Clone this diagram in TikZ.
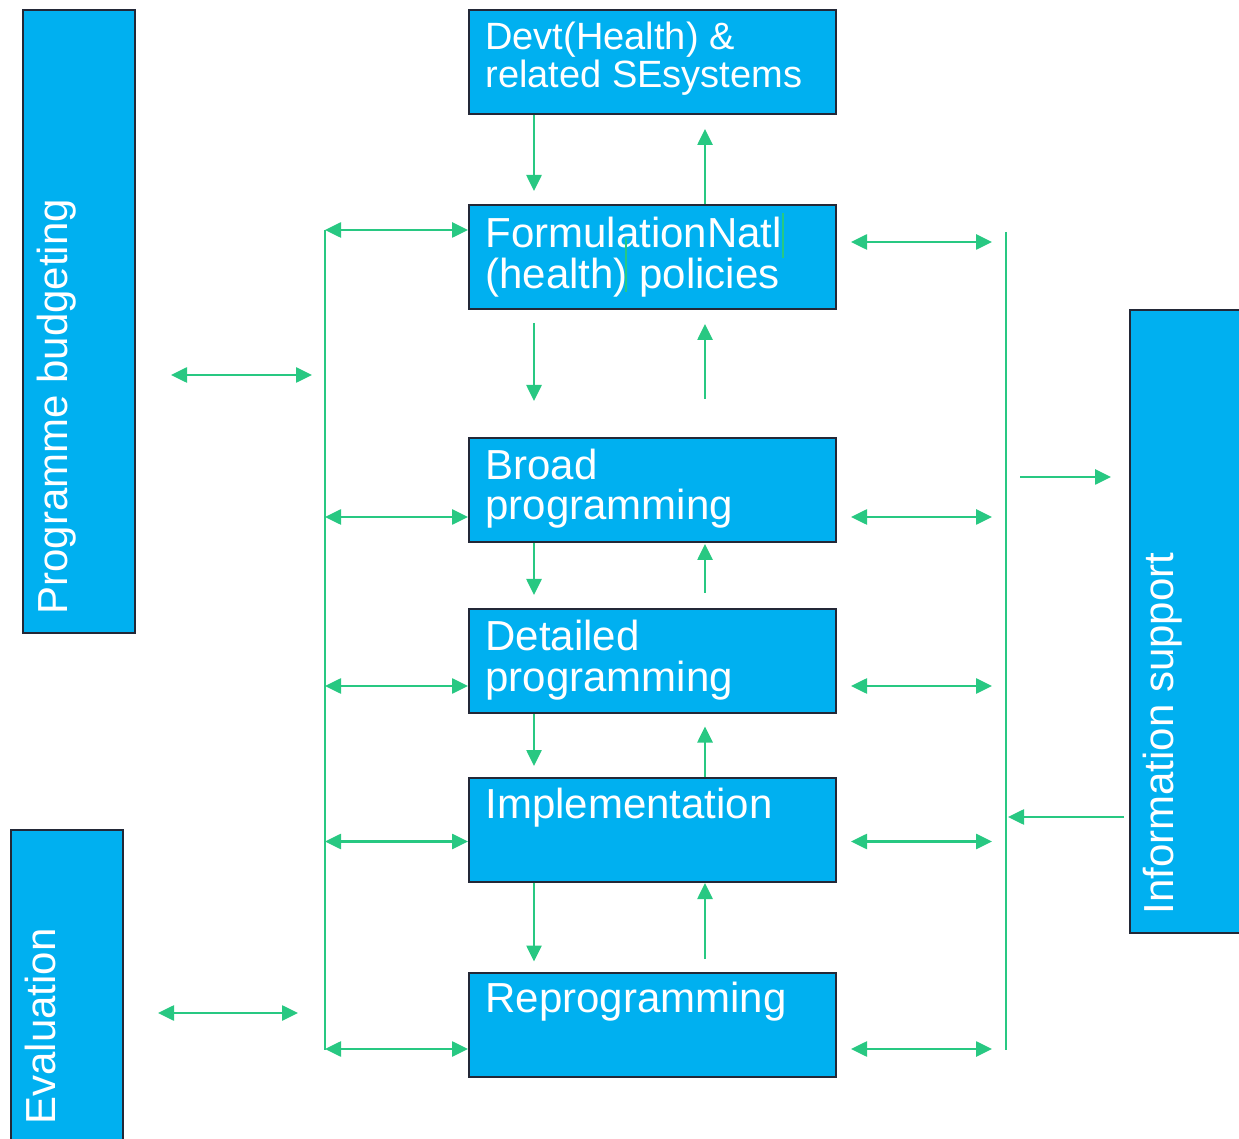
\documentclass[tikz,border=0pt]{standalone}
\usepackage{fontspec}
\setmainfont{Liberation Sans}
\usetikzlibrary{arrows.meta,calc}
\definecolor{boxblue}{RGB}{0,176,240}
\definecolor{boxline}{RGB}{35,40,55}
\definecolor{linkgreen}{RGB}{40,200,130}
\tikzset{
  box/.style={draw=boxline, line width=1pt, fill=boxblue, minimum width=183.5pt, minimum height=52pt, inner sep=0pt},
  sidebox/.style={draw=boxline, line width=1pt, fill=boxblue, inner sep=0pt},
  boxtext/.style={anchor=base west, inner sep=0pt, align=left, text=white, font=\fontsize{21pt}{20.5pt}\selectfont},
  sidetext/.style={anchor=base west, inner sep=0pt, rotate=90, text=white, font=\fontsize{21pt}{20.5pt}\selectfont},
  bus/.style={draw=linkgreen, line width=1.3pt},
  link/.style={bus, -{Triangle[length=8pt,width=7.5pt]}},
  links/.style={bus, {Triangle[length=8pt,width=7.5pt]}-{Triangle[length=8pt,width=7.5pt]}}
}

\begin{document}
\begin{tikzpicture}[x=0.5pt,y=-0.5pt]
  %%%%% START %%%%%
  \useasboundingbox (0,0) rectangle (1239,1139);

  % side boxes
  \node[sidebox, minimum width=56pt, minimum height=311.5pt] (budget) at (79,321.5) {};
  \node[sidebox, minimum width=56pt, minimum height=160pt] (eval) at (67,990) {};
  \node[sidebox, minimum width=60pt, minimum height=311.5pt] (info) at (1190,621.5) {};
  \node[sidetext] (budgetT) at (68,615) {Programme budgeting};
  \node[sidetext] (evalT) at (55,1125) {Evaluation};
  \node[sidetext] (infoT) at (1173,915) {Information support};

  % main column
  \node[box] (devt) at (652.5,62) {};
  \node[box] (form) at (652.5,257) {};
  \node[box] (broad) at (652.5,490) {};
  \node[box] (detail) at (652.5,661) {};
  \node[box] (impl) at (652.5,829.5) {};
  \node[box] (repro) at (652.5,1025) {};

  % base of a two-line text is its last line
  \node[boxtext, font=\fontsize{19pt}{19pt}\selectfont] (devtT) at ([shift={(17,79)}]devt.north west) {Devt(Health) \&\\related SEsystems};
  \begin{scope}
    \clip (form.north west) rectangle ([xshift=157.5pt]form.south west);
    \node[boxtext] (formT) at ([shift={(17,85)}]form.north west) {FormulationNatl\\(health) policies};
  \end{scope}
  \node[boxtext] (broadT) at ([shift={(17,83)}]broad.north west) {Broad\\programming};
  \node[boxtext] (detailT) at ([shift={(17,83)}]detail.north west) {Detailed\\programming};
  \node[boxtext] (implT) at ([shift={(17,42)}]impl.north west) {Implementation};
  \node[boxtext] (reproT) at ([shift={(17,40)}]repro.north west) {Reprogramming};

  % stray marks inside the formulation box
  \draw[linkgreen, line width=0.6pt] (626,238) -- (626,292);
  \draw[linkgreen, line width=0.6pt] (783,213) -- (783,258);

  % down and up between the boxes
  \draw[link] ([xshift=33pt]devt.south west) -- ++(0,76);
  \draw[link] ([xshift=118.5pt]form.north west) -- ++(0,-75);
  \draw[link] ([xshift=33pt,yshift=-6.5pt]form.south west) -- ++(0,78);
  \draw[link] ([xshift=118.5pt,yshift=19pt]broad.north west) -- ++(0,-75);
  \draw[link] ([xshift=33pt]broad.south west) -- ++(0,52);
  \draw[link] ([xshift=118.5pt,yshift=7.5pt]detail.north west) -- ++(0,-49);
  \draw[link] ([xshift=33pt]detail.south west) -- ++(0,52);
  \draw[link] ([xshift=118.5pt]impl.north west) -- ++(0,-50);
  \draw[link] ([xshift=33pt]impl.south west) -- ++(0,79);
  \draw[link] ([xshift=118.5pt,yshift=6.5pt]repro.north west) -- ++(0,-76);

  % left bus
  \coordinate (lbTop) at (325,230);
  \coordinate (lbBot) at (325,1050);
  \draw[bus] (lbTop) -- (lbBot);
  \coordinate (formL) at ([yshift=-13pt]form.north west);
  \coordinate (broadL) at ([yshift=-40pt]broad.north west);
  \coordinate (detailL) at ([yshift=-39pt]detail.north west);
  \coordinate (implL) at ([yshift=-32.5pt]impl.north west);
  \coordinate (reproL) at ([yshift=-38.5pt]repro.north west);
  \foreach \p in {formL,broadL,detailL,implL,reproL}
    \draw[links] (lbTop |- \p) -- (\p);
  \coordinate (budgetOut) at ([shift={(17.5pt,-26.75pt)}]budget.east);
  \draw[links] (budgetOut) -- ([xshift=-6.5pt]lbTop |- budgetOut);
  \coordinate (evalOut) at ([shift={(17pt,-11.5pt)}]eval.east);
  \draw[links] (evalOut) -- ([xshift=-13.5pt]lbTop |- evalOut);

  % right bus
  \coordinate (rbTop) at (1006,232);
  \coordinate (rbBot) at (1006,1050);
  \draw[bus] (rbTop) -- (rbBot);
  \coordinate (formR) at ([shift={(7pt,-19pt)}]form.north east);
  \coordinate (broadR) at ([shift={(7pt,-40pt)}]broad.north east);
  \coordinate (detailR) at ([shift={(7pt,-39pt)}]detail.north east);
  \coordinate (implR) at ([shift={(7pt,-32.5pt)}]impl.north east);
  \coordinate (reproR) at ([shift={(7pt,-38.5pt)}]repro.north east);
  \foreach \p in {formR,broadR,detailR,implR,reproR}
    \draw[links] (\p) -- ([xshift=-7pt]rbTop |- \p);
  \coordinate (infoIn) at ([shift={(-9pt,-84pt)}]info.north west);
  \draw[link] ([xshift=7pt]rbTop |- infoIn) -- (infoIn);
  \coordinate (infoOut) at ([shift={(-2.5pt,-254pt)}]info.north west);
  \draw[link] (infoOut) -- ([xshift=1pt]rbTop |- infoOut);
  %%%%% END %%%%%
\end{tikzpicture}
\end{document}
